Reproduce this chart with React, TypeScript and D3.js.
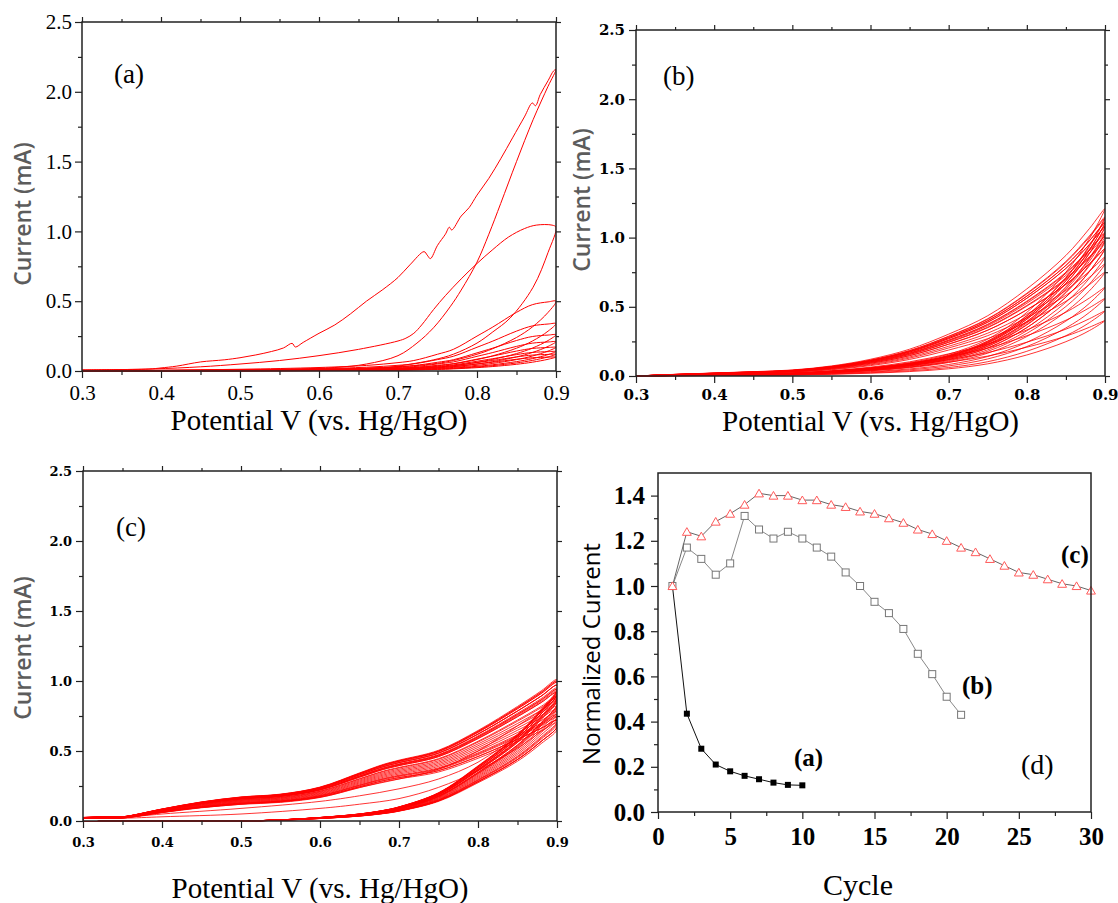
import React, { useEffect, useRef } from "react";
import * as d3 from "d3";

type Pt = [number, number];

// ---- shared tick values ----
const POT_MAJOR = [0.3, 0.4, 0.5, 0.6, 0.7, 0.8, 0.9];
const POT_MINOR = [0.35, 0.45, 0.55, 0.65, 0.75, 0.85];
const CUR_MAJOR = [0, 0.5, 1.0, 1.5, 2.0, 2.5];
const CUR_MINOR = [0.25, 0.75, 1.25, 1.75, 2.25];
const CYC_MAJOR = [0, 5, 10, 15, 20, 25, 30];
const CYC_MINOR = [2.5, 7.5, 12.5, 17.5, 22.5, 27.5];
const NORM_MAJOR = [0, 0.2, 0.4, 0.6, 0.8, 1.0, 1.2, 1.4];
const NORM_MINOR = [0.1, 0.3, 0.5, 0.7, 0.9, 1.1, 1.3];

// ---- panel (a): first two cycles traced, [potential V, current mA] ----
const A_C1_UPPER: Pt[] = [
  [0.30, 0.008], [0.34, 0.010], [0.385, 0.014], [0.40, 0.022], [0.42, 0.035], [0.45, 0.065],
  [0.48, 0.08], [0.50, 0.095], [0.52, 0.115], [0.54, 0.14], [0.555, 0.165], [0.566, 0.198],
  [0.57, 0.172], [0.58, 0.205], [0.60, 0.27], [0.62, 0.33], [0.64, 0.41], [0.66, 0.50],
  [0.68, 0.58], [0.70, 0.67], [0.715, 0.76], [0.733, 0.855], [0.737, 0.83], [0.741, 0.805],
  [0.75, 0.9], [0.76, 0.98], [0.765, 1.03], [0.768, 1.01], [0.78, 1.11], [0.79, 1.17],
  [0.80, 1.26], [0.815, 1.38], [0.83, 1.52], [0.845, 1.67], [0.86, 1.82], [0.87, 1.92],
  [0.874, 1.90], [0.88, 1.98], [0.89, 2.08], [0.897, 2.15], [0.9, 2.16],
];
const A_C1_LOWER: Pt[] = [
  [0.30, 0.004], [0.45, 0.006], [0.55, 0.012], [0.62, 0.025], [0.66, 0.05], [0.70, 0.11],
  [0.724, 0.2], [0.745, 0.31], [0.766, 0.46], [0.78, 0.58], [0.80, 0.78], [0.815, 0.98],
  [0.83, 1.2], [0.85, 1.5], [0.871, 1.80], [0.89, 2.04], [0.9, 2.16],
];
const A_C2_UPPER: Pt[] = [
  [0.30, 0.006], [0.39, 0.015], [0.45, 0.03], [0.50, 0.05], [0.55, 0.075], [0.60, 0.11],
  [0.65, 0.155], [0.70, 0.215], [0.71, 0.235], [0.72, 0.27], [0.73, 0.33], [0.745, 0.44],
  [0.76, 0.54], [0.78, 0.66], [0.80, 0.77], [0.82, 0.87], [0.84, 0.96], [0.86, 1.02],
  [0.875, 1.045], [0.895, 1.045], [0.9, 1.03],
];
const A_C2_LOWER: Pt[] = [
  [0.30, 0.003], [0.5, 0.005], [0.6, 0.01], [0.68, 0.02], [0.70, 0.035], [0.745, 0.08],
  [0.77, 0.12], [0.80, 0.2], [0.82, 0.28], [0.842, 0.38], [0.871, 0.6], [0.89, 0.85], [0.9, 1.03],
];
// later cycles of (a): branch shape as a fraction of the current at 0.9 V
const A_POT = [0.30, 0.40, 0.50, 0.60, 0.66, 0.70, 0.72, 0.75, 0.77, 0.80, 0.82, 0.85, 0.87, 0.89, 0.90];
const A_UPPER_SHAPE = [0.01, 0.012, 0.025, 0.05, 0.08, 0.12, 0.15, 0.24, 0.31, 0.50, 0.63, 0.84, 0.95, 0.99, 1.0];
const A_LOWER_SHAPE = [0.006, 0.008, 0.01, 0.025, 0.04, 0.06, 0.075, 0.11, 0.15, 0.24, 0.32, 0.48, 0.63, 0.84, 1.0];
const A_PEAKS = [0.5, 0.34, 0.26, 0.21, 0.17, 0.14, 0.12, 0.1];

// ---- panel (b) ----
const B_POT = [0.30, 0.35, 0.40, 0.45, 0.50, 0.55, 0.60, 0.65, 0.70, 0.75, 0.80, 0.85, 0.88, 0.90];
const B_UPPER_SHAPE = [0.0, 0.01, 0.018, 0.026, 0.036, 0.06, 0.10, 0.16, 0.25, 0.36, 0.52, 0.72, 0.88, 1.0];
const B_LOWER_SHAPE = [0.0, 0.004, 0.008, 0.012, 0.017, 0.03, 0.05, 0.08, 0.13, 0.22, 0.38, 0.62, 0.82, 1.0];
const B_PEAKS = [0.92, 1.08, 1.03, 0.97, 1.01, 1.21, 1.15, 1.11, 1.14, 1.11, 1.08, 1.04, 0.98, 0.92, 0.86, 0.81, 0.75, 0.64, 0.56, 0.47, 0.40];

// ---- panel (c): first three upper branches traced, the rest as shapes ----
const C_C1_UPPER: Pt[] = [
  [0.30, 0.02], [0.35, 0.02], [0.40, 0.03], [0.50, 0.05], [0.60, 0.09], [0.65, 0.12],
  [0.70, 0.16], [0.75, 0.24], [0.80, 0.36], [0.85, 0.52], [0.88, 0.64], [0.90, 0.72],
];
const C_C2_UPPER: Pt[] = [
  [0.30, 0.02], [0.35, 0.025], [0.40, 0.05], [0.50, 0.09], [0.60, 0.14], [0.65, 0.18],
  [0.70, 0.23], [0.75, 0.30], [0.80, 0.42], [0.85, 0.62], [0.88, 0.78], [0.90, 0.89],
];
const C_C3_UPPER: Pt[] = [
  [0.30, 0.02], [0.35, 0.03], [0.40, 0.07], [0.50, 0.12], [0.60, 0.17], [0.65, 0.24],
  [0.70, 0.30], [0.75, 0.37], [0.80, 0.50], [0.85, 0.68], [0.88, 0.79], [0.90, 0.87],
];
const C_POT = [0.30, 0.33, 0.35, 0.40, 0.45, 0.50, 0.55, 0.60, 0.65, 0.68, 0.70, 0.75, 0.80, 0.85, 0.88, 0.90];
const C_UPPER_SHAPE = [0.025, 0.03, 0.03, 0.085, 0.135, 0.17, 0.19, 0.24, 0.34, 0.40, 0.43, 0.50, 0.64, 0.81, 0.92, 1.0];
const C_LOWER_SHAPE = [0.0, 0.0, 0.0, 0.0, 0.0, 0.0, 0.008, 0.025, 0.05, 0.075, 0.10, 0.20, 0.39, 0.61, 0.79, 0.93];
const C_PEAKS = [0.72, 0.89, 0.87, 0.92, 0.94, 0.97, 1.01, 1.0, 1.0, 0.99, 0.99, 0.97, 0.97, 0.95, 0.94,
  0.93, 0.92, 0.89, 0.88, 0.86, 0.84, 0.82, 0.80, 0.78, 0.76, 0.75, 0.74, 0.72, 0.72, 0.70];

// ---- panel (d): normalized current vs cycle ----
const CYCLES = [1, 2, 3, 4, 5, 6, 7, 8, 9, 10, 11, 12, 13, 14, 15, 16, 17, 18, 19, 20, 21, 22, 23, 24, 25, 26, 27, 28, 29, 30];
const D_NORM_A = [1.0, 0.435, 0.28, 0.21, 0.18, 0.16, 0.145, 0.13, 0.12, 0.118];
const D_NORM_B = [1.0, 1.17, 1.12, 1.05, 1.10, 1.31, 1.25, 1.21, 1.24, 1.21, 1.17, 1.13, 1.06, 1.00, 0.93, 0.88, 0.81, 0.70, 0.61, 0.51, 0.43];
const D_NORM_C = [1.0, 1.24, 1.22, 1.285, 1.32, 1.36, 1.41, 1.40, 1.40, 1.38, 1.38, 1.36, 1.35, 1.33, 1.32,
  1.30, 1.28, 1.25, 1.23, 1.20, 1.17, 1.15, 1.12, 1.09, 1.06, 1.05, 1.03, 1.01, 1.00, 0.98];

const SERIF = "'Liberation Serif', 'Times New Roman', serif";
const DSERIF = "'DejaVu Serif', serif";
const SANS = "'Open Sans', 'Noto Sans', sans-serif";
const AXIS = "#222";

const same = (p: Pt, q: Pt) => Math.abs(p[0] - q[0]) < 1e-9 && Math.abs(p[1] - q[1]) < 1e-9;

function joinLoop(upper: Pt[], lower: Pt[]): Pt[] {
  const pts: Pt[] = upper.slice();
  lower.slice().reverse().forEach((p) => {
    if (!same(pts[pts.length - 1], p)) pts.push(p);
  });
  if (!same(pts[0], pts[pts.length - 1])) pts.push(pts[0]);
  return pts;
}

const scaled = (pot: number[], shape: number[], peak: number): Pt[] =>
  pot.map((v, i) => [v, shape[i] * peak] as Pt);

function drawAxes(g: any, x: any, y: any, o: any) {
  const [l, r] = x.range();
  const [b, t] = y.range();
  const tidy = (sel: any) => {
    sel.select(".domain").remove();
    sel.selectAll(".tick line").attr("stroke", AXIS).attr("stroke-width", 1.2);
  };
  const blank = () => "";

  const bottom = g.append("g").attr("transform", `translate(0,${b})`)
    .call(d3.axisBottom(x).tickValues(o.xMajor).tickSize(7).tickFormat(o.xFmt)).call(tidy);
  bottom.attr("font-family", o.font).attr("font-size", o.size).attr("font-weight", o.weight);
  bottom.selectAll("text").attr("y", o.xOff).attr("dy", null).attr("fill", "#000");
  g.append("g").attr("transform", `translate(0,${b})`)
    .call(d3.axisBottom(x).tickValues(o.xMinor).tickSize(4).tickFormat(blank)).call(tidy);

  const left = g.append("g").attr("transform", `translate(${l},0)`)
    .call(d3.axisLeft(y).tickValues(o.yMajor).tickSize(7).tickFormat(d3.format(".1f"))).call(tidy);
  left.attr("font-family", o.font).attr("font-size", o.size).attr("font-weight", o.weight);
  left.selectAll("text").attr("x", -o.yOff).attr("fill", "#000");
  g.append("g").attr("transform", `translate(${l},0)`)
    .call(d3.axisLeft(y).tickValues(o.yMinor).tickSize(4).tickFormat(blank)).call(tidy);

  if (o.mirror) {
    g.append("g").attr("transform", `translate(0,${t})`)
      .call(d3.axisTop(x).tickValues(o.xMajor).tickSize(5).tickFormat(blank)).call(tidy);
    g.append("g").attr("transform", `translate(0,${t})`)
      .call(d3.axisTop(x).tickValues(o.xMinor).tickSize(3).tickFormat(blank)).call(tidy);
    g.append("g").attr("transform", `translate(${r},0)`)
      .call(d3.axisRight(y).tickValues(o.yMajor).tickSize(5).tickFormat(blank)).call(tidy);
    g.append("g").attr("transform", `translate(${r},0)`)
      .call(d3.axisRight(y).tickValues(o.yMinor).tickSize(3).tickFormat(blank)).call(tidy);
  }

  g.append("rect")
    .attr("x", l).attr("y", t).attr("width", r - l).attr("height", b - t)
    .attr("fill", "none").attr("stroke", AXIS).attr("stroke-width", 1.5);
}

function drawCV(svg: any, c: any) {
  const x = d3.scaleLinear().domain([0.3, 0.9]).range([c.left, c.right]);
  const y = d3.scaleLinear().domain([0, 2.5]).range([c.bottom, c.top]);
  const g = svg.append("g");

  const clipId = `clip-${c.id}`;
  g.append("clipPath").attr("id", clipId).append("rect")
    .attr("x", c.left).attr("y", c.top)
    .attr("width", c.right - c.left).attr("height", c.bottom - c.top + 1);

  const line = d3.line<Pt>()
    .x((d) => x(d[0]))
    .y((d) => y(d[1]))
    .curve(d3.curveCatmullRom.alpha(0.5));

  g.append("g").attr("clip-path", `url(#${clipId})`)
    .selectAll("path").data(c.loops).join("path")
    .attr("d", line)
    .attr("fill", "none")
    .attr("stroke", "#ff0000")
    .attr("stroke-width", c.lw);

  drawAxes(g, x, y, {
    xMajor: POT_MAJOR, xMinor: POT_MINOR, yMajor: CUR_MAJOR, yMinor: CUR_MINOR,
    xFmt: d3.format(".1f"), font: c.font, size: c.size, weight: c.weight,
    xOff: c.xOff, yOff: c.yOff, mirror: true,
  });

  g.append("text")
    .attr("x", c.letterX).attr("y", c.letterY)
    .attr("font-family", SERIF).attr("font-size", 27)
    .text(c.letter);

  g.append("text")
    .attr("transform", `translate(${c.ylabX},${c.ylabY}) rotate(-90)`)
    .attr("text-anchor", "middle")
    .attr("font-family", SANS).attr("font-size", 23).attr("font-weight", 600)
    .attr("fill", "#5c5c5c")
    .text("Current (mA)");

  g.append("text")
    .attr("x", (c.left + c.right) / 2).attr("y", c.xlabY)
    .attr("text-anchor", "middle")
    .attr("font-family", SERIF).attr("font-size", 29)
    .text("Potential V (vs. Hg/HgO)");
}

function drawCycles(svg: any) {
  const x = d3.scaleLinear().domain([0, 30]).range([658, 1091]);
  const y = d3.scaleLinear().domain([0, 1.5]).range([812, 473]);
  const g = svg.append("g");

  const series = [
    { vals: D_NORM_A, line: "#111", mark: "fsq" },
    { vals: D_NORM_B, line: "#888", mark: "osq" },
    { vals: D_NORM_C, line: "#666", mark: "tri" },
  ];
  const line = d3.line<number>()
    .x((_, i) => x(CYCLES[i]))
    .y((d) => y(d));

  series.forEach((s) => {
    g.append("path").attr("d", line(s.vals)).attr("fill", "none")
      .attr("stroke", s.line).attr("stroke-width", 1);
    const pts = s.vals.map((v, i) => [CYCLES[i], v] as Pt);
    if (s.mark === "tri") {
      g.selectAll(null).data(pts).join("path")
        .attr("transform", (d: Pt) => `translate(${x(d[0])},${y(d[1]) + 1})`)
        .attr("d", d3.symbol().type(d3.symbolTriangle).size(34)())
        .attr("fill", "#fff").attr("stroke", "#ff5a5a").attr("stroke-width", 1);
    } else {
      const sz = s.mark === "fsq" ? 6 : 7;
      g.selectAll(null).data(pts).join("rect")
        .attr("x", (d: Pt) => x(d[0]) - sz / 2).attr("y", (d: Pt) => y(d[1]) - sz / 2)
        .attr("width", sz).attr("height", sz)
        .attr("fill", s.mark === "fsq" ? "#000" : "#fff")
        .attr("stroke", s.mark === "fsq" ? "none" : "#777").attr("stroke-width", 1);
    }
  });

  drawAxes(g, x, y, {
    xMajor: CYC_MAJOR, xMinor: CYC_MINOR, yMajor: NORM_MAJOR, yMinor: NORM_MINOR,
    xFmt: d3.format("d"), font: SERIF, size: 25, weight: "bold",
    xOff: 33, yOff: 13, mirror: false,
  });

  const tag = (t: string, tx: number, ty: number, bold: boolean, size: number) =>
    g.append("text").attr("x", tx).attr("y", ty)
      .attr("font-family", SERIF).attr("font-size", size)
      .attr("font-weight", bold ? "bold" : "normal").text(t);
  tag("(a)", 794, 766, true, 25);
  tag("(b)", 962, 694, true, 25);
  tag("(c)", 1061, 563, true, 25);
  tag("(d)", 1021, 774, false, 28);

  g.append("text")
    .attr("transform", "translate(600,654) rotate(-90)")
    .attr("text-anchor", "middle")
    .attr("font-family", SANS).attr("font-size", 24)
    .text("Normalized Current");

  g.append("text")
    .attr("x", 858).attr("y", 895)
    .attr("text-anchor", "middle")
    .attr("font-family", SERIF).attr("font-size", 30)
    .text("Cycle");
}

export default function App() {
  const ref = useRef<SVGSVGElement | null>(null);

  useEffect(() => {
    const svg = d3.select(ref.current);
    svg.selectAll("*").remove();

    const aLoops = [
      joinLoop(A_C1_UPPER, A_C1_LOWER),
      joinLoop(A_C2_UPPER, A_C2_LOWER),
      ...A_PEAKS.map((p) => joinLoop(scaled(A_POT, A_UPPER_SHAPE, p), scaled(A_POT, A_LOWER_SHAPE, p))),
    ];
    const bLoops = B_PEAKS.map((p) =>
      joinLoop(scaled(B_POT, B_UPPER_SHAPE, p), scaled(B_POT, B_LOWER_SHAPE, p)));
    const cEarly = [C_C1_UPPER, C_C2_UPPER, C_C3_UPPER];
    const cLoops = C_PEAKS.map((p, i) =>
      joinLoop(i < cEarly.length ? cEarly[i] : scaled(C_POT, C_UPPER_SHAPE, p), scaled(C_POT, C_LOWER_SHAPE, p)));

    drawCV(svg, {
      id: "a", left: 82, right: 556, top: 22, bottom: 371, loops: aLoops, lw: 1,
      font: SERIF, size: 21, weight: "normal", xOff: 29, yOff: 10,
      letter: "(a)", letterX: 114, letterY: 83, ylabX: 31, ylabY: 214, xlabY: 430,
    });
    drawCV(svg, {
      id: "b", left: 636, right: 1105, top: 30, bottom: 376, loops: bLoops, lw: 0.8,
      font: DSERIF, size: 15, weight: "bold", xOff: 24, yOff: 11,
      letter: "(b)", letterX: 663, letterY: 85, ylabX: 590, ylabY: 200, xlabY: 431,
    });
    drawCV(svg, {
      id: "c", left: 83, right: 557, top: 471, bottom: 821, loops: cLoops, lw: 0.8,
      font: DSERIF, size: 13, weight: "bold", xOff: 26, yOff: 11,
      letter: "(c)", letterX: 116, letterY: 536, ylabX: 31, ylabY: 648, xlabY: 898,
    });
    drawCycles(svg);
  }, []);

  return (
    <svg
      ref={ref}
      width={1118}
      height={903}
      style={{ position: "absolute", left: 0, top: 0, background: "#fff" }}
    />
  );
}
